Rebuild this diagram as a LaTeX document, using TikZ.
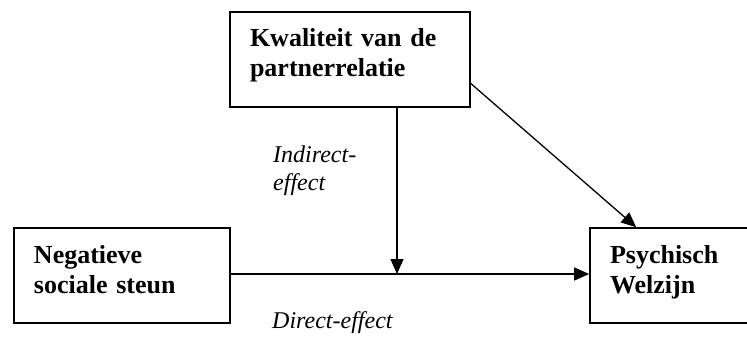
\documentclass[tikz,border=0pt]{standalone}
\usepackage{fontspec}
\setmainfont{Liberation Serif}
\usetikzlibrary{arrows.meta}
\begin{document}
\begin{tikzpicture}[x=1pt,y=1pt,
  box/.style={draw, line width=1.6pt, minimum height=95pt, inner xsep=20pt, inner ysep=0pt,
    text height=18pt, text depth=43pt,
    align=left, font=\bfseries\fontsize{26}{30}\selectfont},
  lbl/.style={inner sep=0pt, align=left, font=\itshape\fontsize{24}{28}\selectfont},
  conn/.style={line width=1.3pt, -{Triangle[length=15pt,width=13pt]}}]
\useasboundingbox (0,0) rectangle (747,338);
\clip (0,0) rectangle (747,338);
\node[box, text width=200pt] (top) at (350,278.5) {Kwaliteit van de\\partnerrelatie};
\node[box, text width=176pt] (left) at (122,62.5) {Negatieve\\sociale steun};
\node[box, text width=122pt] (right) at (671,62.5) {Psychisch\\Welzijn};
\coordinate (m) at (397,64);
\draw[line width=1.3pt] (left.east |- m) -- (m);
\draw[conn] (m) -- (right.west |- m);
\draw[conn] (top.south -| m) -- (m);
\draw[conn] ([yshift=-24pt]top.east) -- ([xshift=47pt]right.north west);
\node[lbl, anchor=north west] (ind) at (273,192.5) {Indirect-\\effect};
\node[lbl, anchor=base west] (dir) at (272,10) {Direct-effect};
\end{tikzpicture}
\end{document}
